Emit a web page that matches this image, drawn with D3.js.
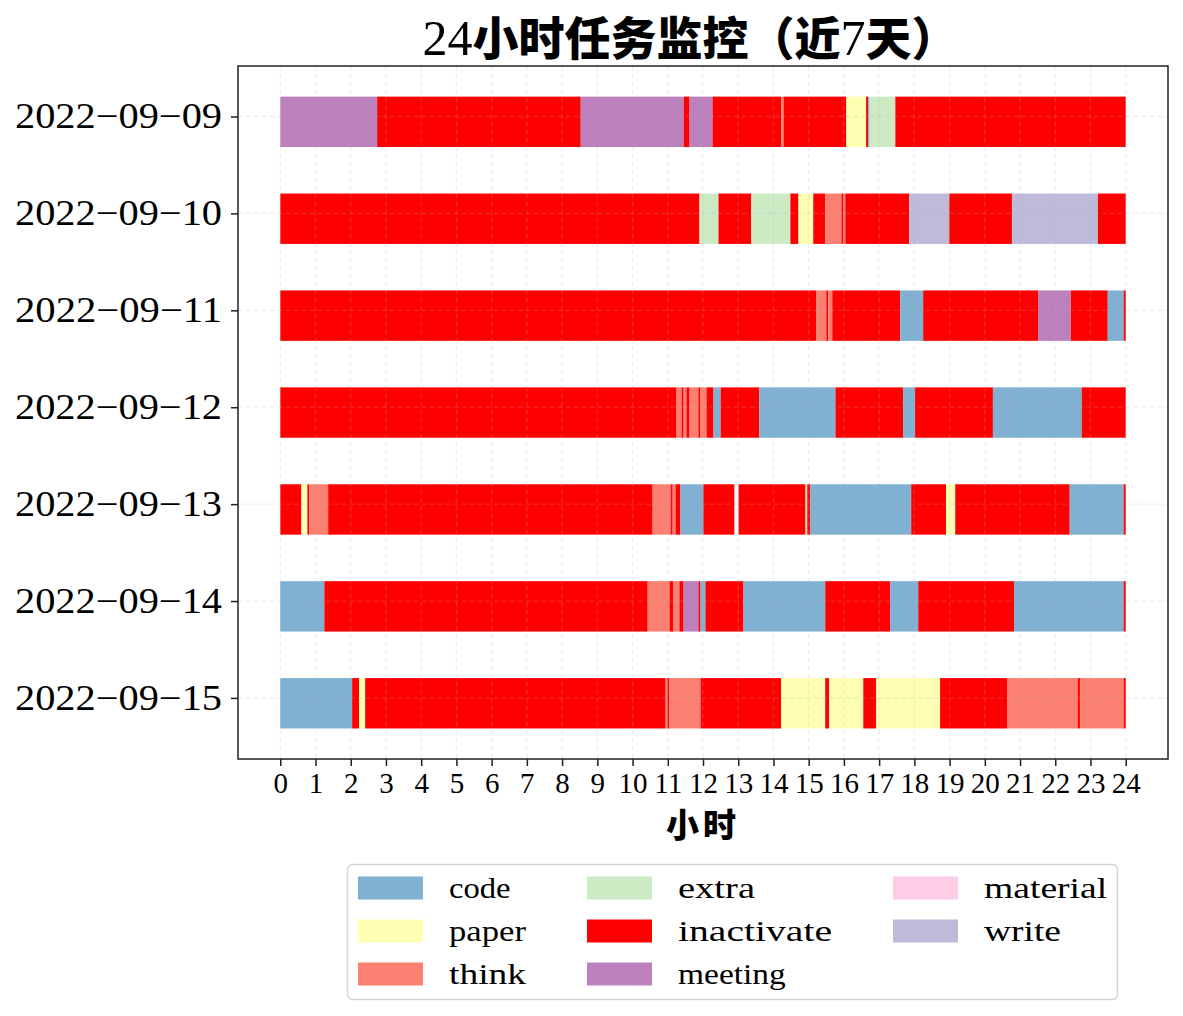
<!DOCTYPE html>
<html><head><meta charset="utf-8">
<script src="https://cdn.jsdelivr.net/npm/d3@7"></script>
<style>body{margin:0;background:#fff}</style>
</head><body>
<svg id="chart" width="1183" height="1016"></svg>
<script>
const dates = ["2022-09-09","2022-09-10","2022-09-11","2022-09-12","2022-09-13","2022-09-14","2022-09-15"];
const tasks = ["code","paper","think","extra","inactivate","meeting","material","write"];
const taskColors = ["#80b1d3","#ffffb3","#fb8072","#ccebc5","#ff0000","#bc80bd","#fccde5","#bebada"];
const hourTicks = [0,1,2,3,4,5,6,7,8,9,10,11,12,13,14,15,16,17,18,19,20,21,22,23,24];

const seg0909 = [[0,2.75,"meeting"],[2.75,8.53,"inactivate"],[8.53,11.45,"meeting"],[11.45,11.62,"inactivate"],[11.62,12.27,"meeting"],[12.27,14.22,"inactivate"],[14.22,14.29,"think"],[14.29,16.07,"inactivate"],[16.07,16.63,"paper"],[16.63,16.69,"inactivate"],[16.69,16.73,"code"],[16.73,17.46,"extra"],[17.46,24,"inactivate"]];
const seg0910 = [[0,11.90,"inactivate"],[11.90,12.44,"extra"],[12.44,13.37,"inactivate"],[13.37,14.48,"extra"],[14.48,14.71,"inactivate"],[14.71,15.13,"paper"],[15.13,15.47,"inactivate"],[15.47,15.93,"think"],[15.93,15.99,"inactivate"],[15.99,16.04,"think"],[16.04,17.85,"inactivate"],[17.85,18.99,"write"],[18.99,20.77,"inactivate"],[20.77,23.21,"write"],[23.21,24,"inactivate"]];
const seg0911 = [[0,15.22,"inactivate"],[15.22,15.50,"think"],[15.50,15.56,"inactivate"],[15.56,15.67,"think"],[15.67,17.60,"inactivate"],[17.60,18.25,"code"],[18.25,21.51,"inactivate"],[21.51,22.44,"meeting"],[22.44,23.49,"inactivate"],[23.49,23.94,"code"],[23.94,24,"inactivate"]];
const seg0912 = [[0,11.25,"inactivate"],[11.25,11.39,"think"],[11.39,11.45,"inactivate"],[11.45,11.53,"think"],[11.53,11.62,"inactivate"],[11.62,11.87,"think"],[11.87,11.93,"inactivate"],[11.93,12.10,"think"],[12.10,12.30,"inactivate"],[12.30,12.50,"code"],[12.50,13.60,"inactivate"],[13.60,15.76,"code"],[15.76,17.68,"inactivate"],[17.68,18.02,"code"],[18.02,20.23,"inactivate"],[20.23,22.75,"code"],[22.75,24,"inactivate"]];
const seg0913 = [[0,0.60,"inactivate"],[0.60,0.77,"paper"],[0.77,0.82,"inactivate"],[0.82,1.36,"think"],[1.36,10.57,"inactivate"],[10.57,11.08,"think"],[11.08,11.14,"inactivate"],[11.14,11.22,"think"],[11.22,11.36,"inactivate"],[11.36,12.01,"code"],[12.01,12.89,"inactivate"],[13.01,14.91,"inactivate"],[14.91,14.96,"extra"],[14.96,15.05,"inactivate"],[15.05,17.91,"code"],[17.91,18.90,"inactivate"],[18.90,19.16,"paper"],[19.16,22.41,"inactivate"],[22.41,23.94,"code"],[23.94,24,"inactivate"]];
const seg0914 = [[0,1.25,"code"],[1.25,10.43,"inactivate"],[10.43,11.05,"think"],[11.05,11.16,"inactivate"],[11.16,11.33,"think"],[11.33,11.45,"inactivate"],[11.45,11.87,"meeting"],[11.87,11.93,"inactivate"],[11.93,12.07,"code"],[12.07,13.15,"inactivate"],[13.15,15.47,"code"],[15.47,17.31,"inactivate"],[17.31,18.11,"code"],[18.11,20.83,"inactivate"],[20.83,23.94,"code"],[23.94,24,"inactivate"]];
const seg0915 = [[0,2.04,"code"],[2.04,2.24,"inactivate"],[2.24,2.41,"paper"],[2.41,10.94,"inactivate"],[10.94,10.99,"think"],[10.99,11.05,"inactivate"],[11.05,11.93,"think"],[11.93,14.22,"inactivate"],[14.22,15.47,"paper"],[15.47,15.58,"inactivate"],[15.58,16.55,"paper"],[16.55,16.92,"inactivate"],[16.92,18.73,"paper"],[18.73,20.63,"inactivate"],[20.63,22.64,"think"],[22.64,22.70,"inactivate"],[22.70,23.94,"think"],[23.94,24,"inactivate"]];
const daySegments = [seg0909, seg0910, seg0911, seg0912, seg0913, seg0914, seg0915];

const svg = d3.select("#chart");
const L = 238, R = 1168, T = 66, B = 759;
const x = d3.scaleLinear().domain([-1.2, 25.2]).range([L, R]);
const y = d3.scaleLinear().domain([-0.521, 6.630]).range([T, B]);
const color = d3.scaleOrdinal().domain(tasks).range(taskColors);
const barOff = -0.205, barH = 0.52;

// bars
const rows = svg.append("g").selectAll("g").data(daySegments).join("g");
rows.each(function(segs, i){
  d3.select(this).selectAll("rect").data(segs).join("rect")
    .attr("x", d => x(d[0]))
    .attr("width", d => x(d[1]) - x(d[0]))
    .attr("y", y(i + barOff))
    .attr("height", y(i + barOff + barH) - y(i + barOff))
    .attr("fill", d => color(d[2]));
});

// grid (on top, translucent)
const grid = svg.append("g").attr("stroke", "#b0b0b0").attr("stroke-opacity", 0.22)
  .attr("stroke-width", 1.3).attr("stroke-dasharray", "5,3");
grid.selectAll("line.v").data(hourTicks).join("line").attr("class","v")
  .attr("x1", d => x(d)).attr("x2", d => x(d)).attr("y1", T).attr("y2", B);
grid.selectAll("line.h").data(dates).join("line").attr("class","h")
  .attr("x1", L).attr("x2", R).attr("y1", (d,i) => y(i)).attr("y2", (d,i) => y(i));

// axes
const xAxis = d3.axisBottom(x).tickValues(hourTicks).tickSize(7).tickPadding(6).tickFormat(d3.format("d"));
const gx = svg.append("g").attr("transform", `translate(0,${B})`).call(xAxis);
gx.select(".domain").remove();
gx.selectAll(".tick line").attr("stroke", "#222").attr("stroke-width", 1.5);
gx.selectAll(".tick text").attr("font-family", "'Liberation Serif', serif").attr("font-size", 29).attr("fill", "#000");

const yAxis = d3.axisLeft(y).tickValues(d3.range(dates.length)).tickSize(7).tickPadding(9)
  .tickFormat(i => dates[i].replace(/-/g, "\u2212"));
const gy = svg.append("g").attr("transform", `translate(${L},0)`).call(yAxis);
gy.select(".domain").remove();
gy.selectAll(".tick line").attr("stroke", "#222").attr("stroke-width", 1.5);
gy.selectAll(".tick text").attr("font-family", "'Liberation Serif', serif").attr("font-size", 35)
  .attr("fill", "#000").attr("textLength", 207).attr("lengthAdjust", "spacingAndGlyphs");

// frame
svg.append("rect").attr("x", L).attr("y", T).attr("width", R - L).attr("height", B - T)
  .attr("fill", "none").attr("stroke", "#222").attr("stroke-width", 1.5);

// x label
svg.append("text").attr("x", (L + R) / 2).attr("y", 837).attr("text-anchor", "middle")
  .attr("font-family", "'Noto Sans CJK SC'").attr("font-weight", 900).attr("font-size", 33)
  .attr("letter-spacing", 4).text("小时");

// title
const title = svg.append("text").attr("x", 690).attr("y", 55).attr("text-anchor", "middle");
const tparts = [["24","serif"],["小时任务监控（近","cjk"],["7","serif"],["天）","cjk"]];
tparts.forEach(p => {
  const t = title.append("tspan").text(p[0]);
  if (p[1] === "serif") t.attr("font-family", "'Liberation Serif', serif").attr("font-size", 50);
  else t.attr("font-family", "'Noto Sans CJK SC'").attr("font-weight", 900).attr("font-size", 46);
});

// legend
const legendX = [358, 587, 893];
const legendY = [888, 931, 974];
svg.append("rect").attr("x", 347.5).attr("y", 864.5).attr("width", 770).attr("height", 135)
  .attr("rx", 5).attr("fill", "#fff").attr("stroke", "#d5d5d5").attr("stroke-width", 1.5);
const leg = svg.append("g").selectAll("g").data(tasks).join("g")
  .attr("transform", (d, i) => `translate(${legendX[Math.floor(i / 3)]},${legendY[i % 3]})`);
leg.append("rect").attr("x", 0).attr("y", -11.5).attr("width", 65).attr("height", 23).attr("fill", d => color(d));
leg.append("text").attr("x", 91).attr("y", 10).attr("font-family", "'Liberation Serif', serif")
  .attr("font-size", 30).attr("fill", "#000")
  .attr("textLength", d => d.length * 15.4).attr("lengthAdjust", "spacingAndGlyphs").text(d => d);
</script>
</body></html>
